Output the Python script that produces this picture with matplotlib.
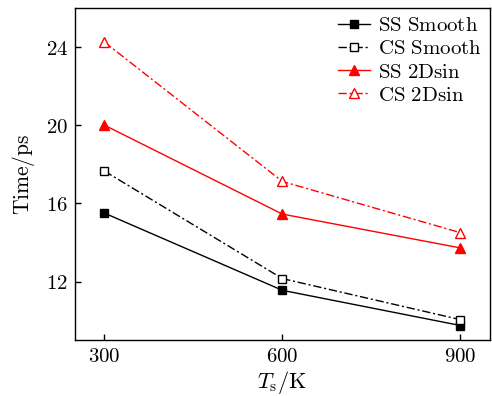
import matplotlib
matplotlib.use("Agg")
import matplotlib.pyplot as plt

plt.rcParams['mathtext.fontset'] = 'cm'
plt.rcParams['font.family'] = 'serif'

temps = [300, 600, 900]
ss_smooth = [15.5, 11.55, 9.75]
cs_smooth = [17.65, 12.15, 10.05]
ss_2dsin = [20.0, 15.45, 13.72]
cs_2dsin = [24.25, 17.12, 14.5]
labels = ["SS Smooth", "CS Smooth", "SS 2Dsin", "CS 2Dsin"]
yticks = [12, 16, 20, 24]

def m(s):
    return r'$\mathrm{' + s.replace(' ', r'\ ') + '}$'

fig = plt.figure(figsize=(4.92, 3.96), dpi=100)
ax = fig.add_axes([0.152, 0.141, 0.844, 0.839])

ax.plot(temps, ss_smooth, color='black', ls='-', lw=1.0, marker='s', ms=5.5,
        mfc='black', mec='black', label=m(labels[0]))
ax.plot(temps, cs_smooth, color='black', ls=(0, (6, 2, 1.5, 2)), lw=1.0, marker='s', ms=5.5,
        mfc='white', mec='black', label=m(labels[1]))
ax.plot(temps, ss_2dsin, color='red', ls='-', lw=1.0, marker='^', ms=6.5,
        mfc='red', mec='red', label=m(labels[2]))
ax.plot(temps, cs_2dsin, color='red', ls=(0, (6, 2, 1.5, 2)), lw=1.0, marker='^', ms=6.5,
        mfc='white', mec='red', label=m(labels[3]))

ax.set_xlim(250, 950)
ax.set_ylim(9, 26)
ax.set_xticks(temps)
ax.set_xticklabels([r'$%d$' % t for t in temps], fontsize=15)
ax.set_yticks(yticks)
ax.set_yticklabels([r'$%d$' % t for t in yticks], fontsize=15)
ax.tick_params(direction='in', length=4, width=1, top=False, right=False, pad=5)
for s in ax.spines.values():
    s.set_linewidth(1.0)

ax.set_xlabel(r'$T_{\mathrm{s}}/\mathrm{K}$', fontsize=16, labelpad=2)
ax.set_ylabel(r'$\mathrm{Time/ps}$', fontsize=15.5, labelpad=6)

leg = ax.legend(loc='upper right', frameon=False, fontsize=15, handlelength=1.5,
                handletextpad=0.4, labelspacing=0.2, borderaxespad=0.1,
                borderpad=0.3)

fig.savefig('out.png', dpi=100)
